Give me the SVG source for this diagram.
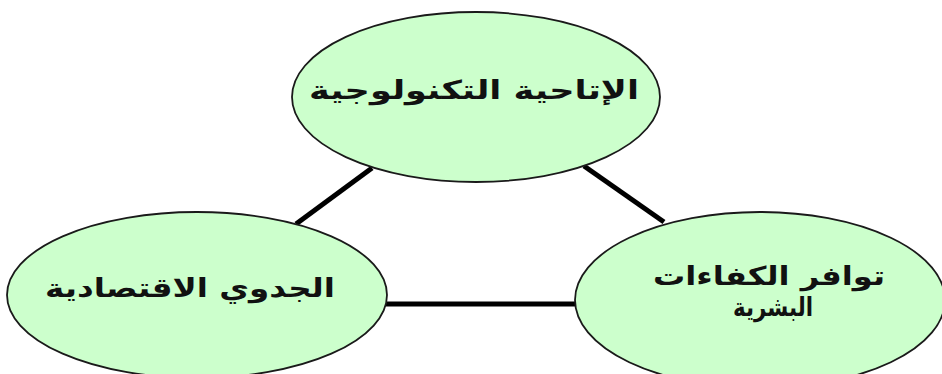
<svg xmlns="http://www.w3.org/2000/svg" width="942" height="374" viewBox="0 0 942 374">
<style>
.node{fill:#ccffcc;stroke:#1a1a1a;stroke-width:1.8}
.edge{stroke:#000;stroke-width:5;fill:none}
.lbl{font-family:"DejaVu Sans","Noto Sans",sans-serif;font-size:26px;font-weight:bold;fill:#111;text-anchor:middle;direction:rtl}
</style>
<rect width="942" height="374" fill="#fff"/>
<g id="connectors">
<line class="edge" x1="372" y1="168" x2="296" y2="224"/>
<line class="edge" x1="584" y1="166" x2="664" y2="222"/>
<line class="edge" x1="383" y1="304" x2="579" y2="304"/>
</g>
<g id="node-tech">
<ellipse class="node" cx="476" cy="97" rx="184" ry="85"/>
<text class="lbl" x="474" y="99" textLength="330" lengthAdjust="spacingAndGlyphs">الإتاحية التكنولوجية</text>
</g>
<g id="node-econ">
<ellipse class="node" cx="197" cy="295" rx="190" ry="83"/>
<text class="lbl" x="190" y="297" textLength="290" lengthAdjust="spacingAndGlyphs">الجدوي الاقتصادية</text>
</g>
<g id="node-human">
<ellipse class="node" cx="760" cy="300" rx="185" ry="88"/>
<text class="lbl" x="769" y="285" textLength="232" lengthAdjust="spacingAndGlyphs">توافر الكفاءات</text>
<text class="lbl" x="773" y="316" textLength="80" lengthAdjust="spacingAndGlyphs">البشرية</text>
</g>
</svg>
